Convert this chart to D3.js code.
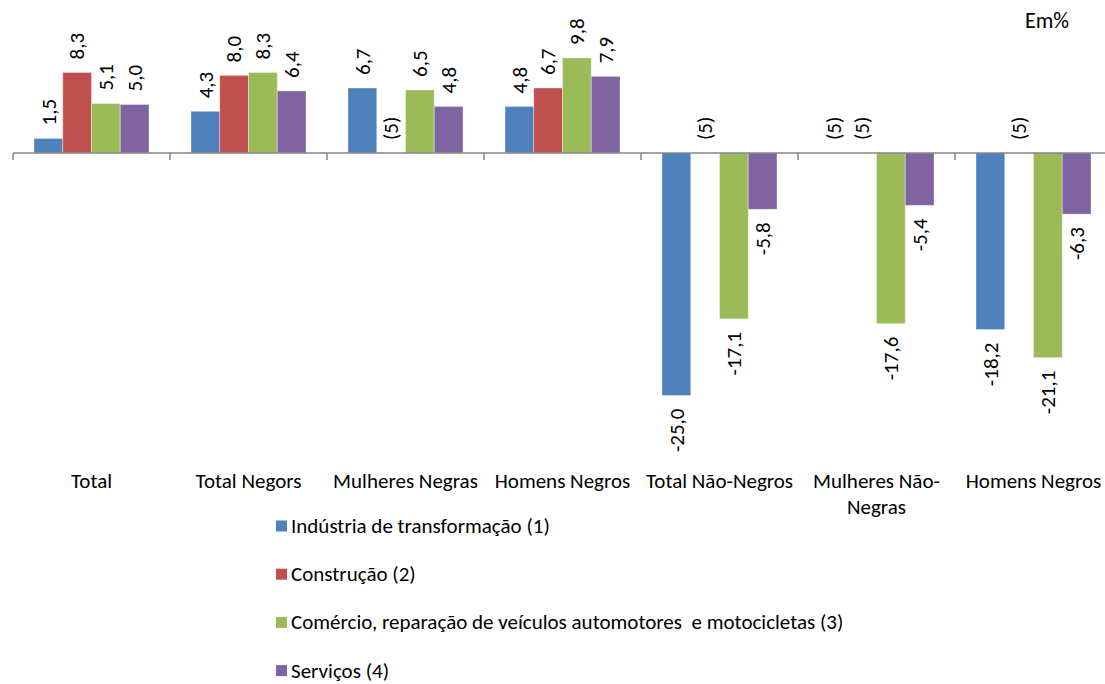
<!DOCTYPE html>
<html>
<head>
<meta charset="utf-8">
<script src="https://cdn.jsdelivr.net/npm/d3@7"></script>
<style>
	body { margin: 0; background: #fff; }
	svg text { font-family: Carlito, Calibri, Lato, sans-serif; fill: #000; }
</style>
</head>
<body>
<svg id="chart" width="1105" height="684"></svg>
<script>
// categories and series
var categories = ["Total", "Total Negors", "Mulheres Negras", "Homens Negros",
	"Total Não-Negros", "Mulheres Não-Negras", "Homens Negros "];
var catLabels = [["Total"], ["Total Negors"], ["Mulheres Negras"], ["Homens Negros"],
	["Total Não-Negros"], ["Mulheres Não-", "Negras"], ["Homens Negros"]];
var seriesNames = ["Indústria de transformação (1)", "Construção (2)",
	"Comércio, reparação de veículos automotores  e motocicletas (3)", "Serviços (4)"];
var seriesColors = ["#4F81BD", "#C0504D", "#9BBB59", "#8064A2"];

// null = "(5)"
var industria = [1.5, 4.3, 6.7, 4.8, -25.0, null, -18.2];
var construcao = [8.3, 8.0, null, 6.7, null, null, null];
var comercio = [5.1, 8.3, 6.5, 9.8, -17.1, -17.6, -21.1];
var servicos = [5.0, 6.4, 4.8, 7.9, -5.8, -5.4, -6.3];
var seriesValues = [industria, construcao, comercio, servicos];

var svg = d3.select("#chart");
var fmt = function(v) { return v.toFixed(1).replace(".", ","); };
var fs = "21px";

var x = d3.scaleBand().domain(categories).range([13, 1112]);
var xs = d3.scaleBand().domain(d3.range(4)).range([21, 136]);
var y = d3.scaleLinear().domain([-30, 10]).range([444, 56]);

// flatten for drawing
var cells = [];
categories.forEach(function(c, ci) {
	seriesValues.forEach(function(vals, si) {
		cells.push({cat: c, s: si, v: vals[ci]});
	});
});

// bars
svg.append("g").selectAll("rect")
	.data(cells.filter(function(d) { return d.v !== null; }))
	.join("rect")
	.attr("x", function(d) { return x(d.cat) + xs(d.s); })
	.attr("width", xs.bandwidth())
	.attr("y", function(d) { return y(Math.max(0, d.v)); })
	.attr("height", function(d) { return Math.abs(y(d.v) - y(0)); })
	.attr("fill", function(d) { return seriesColors[d.s]; })
	.attr("stroke", "rgba(255,255,255,0.35)")
	.attr("stroke-width", 1);

// axis line and ticks
var axis = svg.append("g").attr("transform", "translate(0," + y(0) + ")");
axis.append("line")
	.attr("x1", x.range()[0]).attr("x2", x.range()[1])
	.attr("stroke", "#868686").attr("stroke-width", 1.5);
axis.selectAll("line.tick")
	.data(categories.map(function(c) { return x(c); }).concat([x.range()[1]]))
	.join("line")
	.attr("class", "tick")
	.attr("x1", function(d) { return d; }).attr("x2", function(d) { return d; })
	.attr("y1", 0).attr("y2", 7)
	.attr("stroke", "#868686").attr("stroke-width", 1.5);

// value labels (rotated)
svg.append("g").selectAll("text")
	.data(cells)
	.join("text")
	.attr("transform", function(d) {
		var cx = x(d.cat) + xs(d.s) + xs.bandwidth() / 2;
		var v = d.v === null ? 0 : d.v;
		var yy = v >= 0 ? y(v) - 13 : y(v) + 13;
		return "translate(" + cx + "," + yy + ") rotate(-90)";
	})
	.attr("dy", "0.35em")
	.attr("text-anchor", function(d) { return (d.v !== null && d.v < 0) ? "end" : "start"; })
	.style("font-size", fs)
	.text(function(d) { return d.v === null ? "(5)" : fmt(d.v); });

// category labels
var catG = svg.append("g").selectAll("text")
	.data(categories)
	.join("text")
	.attr("x", function(d) { return x(d) + x.bandwidth() / 2; })
	.attr("y", 488)
	.attr("text-anchor", "middle")
	.style("font-size", fs);
catG.selectAll("tspan")
	.data(function(d, i) { return catLabels[i]; })
	.join("tspan")
	.attr("x", function() { return d3.select(this.parentNode).attr("x"); })
	.attr("dy", function(d, i) { return i === 0 ? 0 : 26; })
	.text(function(d) { return d; });

// legend
var legend = svg.append("g").selectAll("g")
	.data(seriesNames)
	.join("g")
	.attr("transform", function(d, i) { return "translate(276," + (526 + i * 48.2) + ")"; });
legend.append("rect")
	.attr("x", 0).attr("y", -5.5)
	.attr("width", 11).attr("height", 11)
	.attr("fill", function(d, i) { return seriesColors[i]; });
legend.append("text")
	.attr("x", 15).attr("dy", "0.33em")
	.style("font-size", fs)
	.style("white-space", "pre")
	.text(function(d) { return d; });

// unit
svg.append("text")
	.attr("x", 1025).attr("y", 28)
	.style("font-size", "22px")
	.text("Em%");
</script>
</body>
</html>
